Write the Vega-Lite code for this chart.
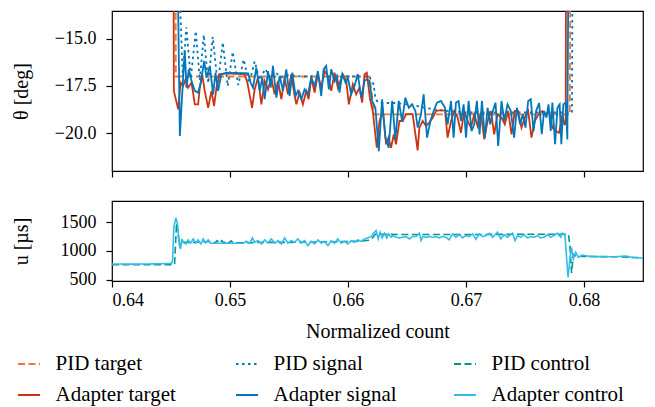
{
  "$schema": "https://vega.github.io/schema/vega-lite/v6.json",
  "padding": {"left": 10, "top": 10, "right": 10, "bottom": 5},
  "config": {
    "font": "Liberation Serif",
    "view": {"stroke": "black", "strokeWidth": 1.2},
    "axis": {
      "grid": false, "domain": false,
      "tickColor": "black", "tickWidth": 1.2, "tickSize": 6,
      "labelFont": "Liberation Serif", "labelFontSize": 18, "labelColor": "black", "labelPadding": 10,
      "titleFont": "Liberation Serif", "titleFontSize": 20, "titleFontWeight": "normal", "titleColor": "black"
    },
    "legend": {"labelFont": "Liberation Serif"},
    "concat": {"spacing": 21}
  },
  "datasets": {
    "theta": [
      {"series": "PID target", "count": 0.64, "value": -12},
      {"series": "PID target", "count": 0.64539, "value": -12},
      {"series": "PID target", "count": 0.64541, "value": -17.0},
      {"series": "PID target", "count": 0.66182, "value": -17.0},
      {"series": "PID target", "count": 0.66224, "value": -19.0},
      {"series": "PID target", "count": 0.6788, "value": -19.0},
      {"series": "PID target", "count": 0.67884, "value": -12},
      {"series": "PID target", "count": 0.685, "value": -12},

      {"series": "PID signal", "count": 0.64, "value": -12},
      {"series": "PID signal", "count": 0.6457, "value": -12},
      {"series": "PID signal", "count": 0.646, "value": -17.0},
      {"series": "PID signal", "count": 0.6463, "value": -14.4},
      {"series": "PID signal", "count": 0.64668, "value": -17.1},
      {"series": "PID signal", "count": 0.6471, "value": -14.6},
      {"series": "PID signal", "count": 0.64744, "value": -17.2},
      {"series": "PID signal", "count": 0.64778, "value": -14.8},
      {"series": "PID signal", "count": 0.64816, "value": -17.35},
      {"series": "PID signal", "count": 0.64854, "value": -14.9},
      {"series": "PID signal", "count": 0.64896, "value": -17.45},
      {"series": "PID signal", "count": 0.64939, "value": -15.2},
      {"series": "PID signal", "count": 0.64981, "value": -17.5},
      {"series": "PID signal", "count": 0.65023, "value": -15.7},
      {"series": "PID signal", "count": 0.6507, "value": -17.45},
      {"series": "PID signal", "count": 0.65116, "value": -16.1},
      {"series": "PID signal", "count": 0.65163, "value": -17.35},
      {"series": "PID signal", "count": 0.65209, "value": -16.2},
      {"series": "PID signal", "count": 0.65252, "value": -17.2},
      {"series": "PID signal", "count": 0.65298, "value": -16.6},
      {"series": "PID signal", "count": 0.65345, "value": -17.1},
      {"series": "PID signal", "count": 0.65387, "value": -16.8},
      {"series": "PID signal", "count": 0.65438, "value": -17.05},
      {"series": "PID signal", "count": 0.655, "value": -16.9},
      {"series": "PID signal", "count": 0.656, "value": -17.0},
      {"series": "PID signal", "count": 0.6618, "value": -17.0},
      {"series": "PID signal", "count": 0.66215, "value": -17.4},
      {"series": "PID signal", "count": 0.66235, "value": -18.2},
      {"series": "PID signal", "count": 0.6626, "value": -18.4},
      {"series": "PID signal", "count": 0.664, "value": -18.4},
      {"series": "PID signal", "count": 0.6655, "value": -18.5},
      {"series": "PID signal", "count": 0.6665, "value": -18.65},
      {"series": "PID signal", "count": 0.668, "value": -18.8},
      {"series": "PID signal", "count": 0.67, "value": -18.9},
      {"series": "PID signal", "count": 0.67898, "value": -18.9},
      {"series": "PID signal", "count": 0.67902, "value": -12},
      {"series": "PID signal", "count": 0.685, "value": -12},

      {"series": "Adapter target", "count": 0.64, "value": -12},
      {"series": "Adapter target", "count": 0.64522, "value": -12},
      {"series": "Adapter target", "count": 0.64524, "value": -17.76},
      {"series": "Adapter target", "count": 0.64561, "value": -18.73},
      {"series": "Adapter target", "count": 0.64581, "value": -17.32},
      {"series": "Adapter target", "count": 0.64603, "value": -17.5},
      {"series": "Adapter target", "count": 0.64623, "value": -17.15},
      {"series": "Adapter target", "count": 0.64645, "value": -17.59},
      {"series": "Adapter target", "count": 0.64674, "value": -17.32},
      {"series": "Adapter target", "count": 0.64702, "value": -18.47},
      {"series": "Adapter target", "count": 0.6473, "value": -18.47},
      {"series": "Adapter target", "count": 0.64744, "value": -17.59},
      {"series": "Adapter target", "count": 0.64764, "value": -16.88},
      {"series": "Adapter target", "count": 0.64786, "value": -17.76},
      {"series": "Adapter target", "count": 0.64815, "value": -18.65},
      {"series": "Adapter target", "count": 0.64843, "value": -17.76},
      {"series": "Adapter target", "count": 0.64865, "value": -18.56},
      {"series": "Adapter target", "count": 0.64885, "value": -17.59},
      {"series": "Adapter target", "count": 0.64913, "value": -16.88},
      {"series": "Adapter target", "count": 0.64942, "value": -16.85},
      {"series": "Adapter target", "count": 0.65012, "value": -16.85},
      {"series": "Adapter target", "count": 0.65125, "value": -16.88},
      {"series": "Adapter target", "count": 0.65147, "value": -17.32},
      {"series": "Adapter target", "count": 0.65187, "value": -18.65},
      {"series": "Adapter target", "count": 0.65209, "value": -17.68},
      {"series": "Adapter target", "count": 0.65237, "value": -17.06},
      {"series": "Adapter target", "count": 0.65266, "value": -18.47},
      {"series": "Adapter target", "count": 0.65294, "value": -17.24},
      {"series": "Adapter target", "count": 0.65322, "value": -17.68},
      {"series": "Adapter target", "count": 0.6535, "value": -17.06},
      {"series": "Adapter target", "count": 0.65378, "value": -17.94},
      {"series": "Adapter target", "count": 0.65407, "value": -17.24},
      {"series": "Adapter target", "count": 0.65435, "value": -18.2},
      {"series": "Adapter target", "count": 0.65463, "value": -17.06},
      {"series": "Adapter target", "count": 0.65491, "value": -17.94},
      {"series": "Adapter target", "count": 0.65519, "value": -16.88},
      {"series": "Adapter target", "count": 0.65548, "value": -18.03},
      {"series": "Adapter target", "count": 0.65562, "value": -18.47},
      {"series": "Adapter target", "count": 0.6559, "value": -17.85},
      {"series": "Adapter target", "count": 0.65618, "value": -18.47},
      {"series": "Adapter target", "count": 0.65646, "value": -17.76},
      {"series": "Adapter target", "count": 0.65666, "value": -18.2},
      {"series": "Adapter target", "count": 0.65689, "value": -17.06},
      {"series": "Adapter target", "count": 0.65717, "value": -17.85},
      {"series": "Adapter target", "count": 0.65745, "value": -16.88},
      {"series": "Adapter target", "count": 0.65773, "value": -17.59},
      {"series": "Adapter target", "count": 0.65801, "value": -16.71},
      {"series": "Adapter target", "count": 0.65829, "value": -16.97},
      {"series": "Adapter target", "count": 0.65858, "value": -17.76},
      {"series": "Adapter target", "count": 0.65886, "value": -16.8},
      {"series": "Adapter target", "count": 0.65914, "value": -17.59},
      {"series": "Adapter target", "count": 0.65956, "value": -16.88},
      {"series": "Adapter target", "count": 0.65985, "value": -17.24},
      {"series": "Adapter target", "count": 0.66007, "value": -18.47},
      {"series": "Adapter target", "count": 0.66041, "value": -17.41},
      {"series": "Adapter target", "count": 0.66069, "value": -17.94},
      {"series": "Adapter target", "count": 0.66097, "value": -17.59},
      {"series": "Adapter target", "count": 0.6612, "value": -18.38},
      {"series": "Adapter target", "count": 0.6614, "value": -16.88},
      {"series": "Adapter target", "count": 0.66159, "value": -16.8},
      {"series": "Adapter target", "count": 0.66187, "value": -18.2},
      {"series": "Adapter target", "count": 0.6621, "value": -18.82},
      {"series": "Adapter target", "count": 0.66244, "value": -20.76},
      {"series": "Adapter target", "count": 0.66267, "value": -19.35},
      {"series": "Adapter target", "count": 0.66295, "value": -18.82},
      {"series": "Adapter target", "count": 0.66323, "value": -20.58},
      {"series": "Adapter target", "count": 0.66343, "value": -20.23},
      {"series": "Adapter target", "count": 0.66365, "value": -20.76},
      {"series": "Adapter target", "count": 0.66388, "value": -20.06},
      {"series": "Adapter target", "count": 0.66407, "value": -20.58},
      {"series": "Adapter target", "count": 0.66436, "value": -19.35},
      {"series": "Adapter target", "count": 0.66464, "value": -19.35},
      {"series": "Adapter target", "count": 0.66492, "value": -18.99},
      {"series": "Adapter target", "count": 0.66548, "value": -18.99},
      {"series": "Adapter target", "count": 0.6659, "value": -20.9},
      {"series": "Adapter target", "count": 0.66605, "value": -19.7},
      {"series": "Adapter target", "count": 0.66633, "value": -19.35},
      {"series": "Adapter target", "count": 0.66661, "value": -19.61},
      {"series": "Adapter target", "count": 0.66689, "value": -19.44},
      {"series": "Adapter target", "count": 0.66718, "value": -19.17},
      {"series": "Adapter target", "count": 0.66746, "value": -18.82},
      {"series": "Adapter target", "count": 0.66774, "value": -18.79},
      {"series": "Adapter target", "count": 0.66822, "value": -18.79},
      {"series": "Adapter target", "count": 0.66844, "value": -20.23},
      {"series": "Adapter target", "count": 0.66873, "value": -19.35},
      {"series": "Adapter target", "count": 0.66901, "value": -18.82},
      {"series": "Adapter target", "count": 0.66929, "value": -19.17},
      {"series": "Adapter target", "count": 0.66957, "value": -19.97},
      {"series": "Adapter target", "count": 0.66985, "value": -18.82},
      {"series": "Adapter target", "count": 0.67014, "value": -19.35},
      {"series": "Adapter target", "count": 0.67042, "value": -19.7},
      {"series": "Adapter target", "count": 0.6707, "value": -18.99},
      {"series": "Adapter target", "count": 0.67098, "value": -19.61},
      {"series": "Adapter target", "count": 0.67126, "value": -18.91},
      {"series": "Adapter target", "count": 0.67155, "value": -20.32},
      {"series": "Adapter target", "count": 0.67183, "value": -19.35},
      {"series": "Adapter target", "count": 0.67211, "value": -18.82},
      {"series": "Adapter target", "count": 0.67239, "value": -20.06},
      {"series": "Adapter target", "count": 0.67267, "value": -18.99},
      {"series": "Adapter target", "count": 0.67301, "value": -19.17},
      {"series": "Adapter target", "count": 0.67329, "value": -19.53},
      {"series": "Adapter target", "count": 0.67357, "value": -18.82},
      {"series": "Adapter target", "count": 0.67386, "value": -20.06},
      {"series": "Adapter target", "count": 0.67414, "value": -18.82},
      {"series": "Adapter target", "count": 0.67442, "value": -18.82},
      {"series": "Adapter target", "count": 0.6747, "value": -19.7},
      {"series": "Adapter target", "count": 0.67498, "value": -19.17},
      {"series": "Adapter target", "count": 0.67527, "value": -18.82},
      {"series": "Adapter target", "count": 0.67555, "value": -20.23},
      {"series": "Adapter target", "count": 0.67583, "value": -19.35},
      {"series": "Adapter target", "count": 0.67619, "value": -18.95},
      {"series": "Adapter target", "count": 0.67648, "value": -18.82},
      {"series": "Adapter target", "count": 0.67676, "value": -19.0},
      {"series": "Adapter target", "count": 0.67704, "value": -18.82},
      {"series": "Adapter target", "count": 0.67732, "value": -19.7},
      {"series": "Adapter target", "count": 0.67761, "value": -19.88},
      {"series": "Adapter target", "count": 0.67789, "value": -19.97},
      {"series": "Adapter target", "count": 0.67817, "value": -19.0},
      {"series": "Adapter target", "count": 0.67834, "value": -19.53},
      {"series": "Adapter target", "count": 0.67845, "value": -19.5},
      {"series": "Adapter target", "count": 0.67847, "value": -12},
      {"series": "Adapter target", "count": 0.685, "value": -12},

      {"series": "Adapter signal", "count": 0.64, "value": -12},
      {"series": "Adapter signal", "count": 0.64558, "value": -12},
      {"series": "Adapter signal", "count": 0.64575, "value": -20.14},
      {"series": "Adapter signal", "count": 0.64603, "value": -17.06},
      {"series": "Adapter signal", "count": 0.64617, "value": -15.65},
      {"series": "Adapter signal", "count": 0.64631, "value": -17.59},
      {"series": "Adapter signal", "count": 0.64651, "value": -16.62},
      {"series": "Adapter signal", "count": 0.64674, "value": -17.24},
      {"series": "Adapter signal", "count": 0.64702, "value": -17.76},
      {"series": "Adapter signal", "count": 0.6473, "value": -17.85},
      {"series": "Adapter signal", "count": 0.64753, "value": -17.32},
      {"series": "Adapter signal", "count": 0.64781, "value": -16.18},
      {"series": "Adapter signal", "count": 0.64801, "value": -17.06},
      {"series": "Adapter signal", "count": 0.64829, "value": -16.44},
      {"series": "Adapter signal", "count": 0.64857, "value": -17.94},
      {"series": "Adapter signal", "count": 0.64877, "value": -16.8},
      {"series": "Adapter signal", "count": 0.64899, "value": -17.76},
      {"series": "Adapter signal", "count": 0.64927, "value": -16.88},
      {"series": "Adapter signal", "count": 0.6497, "value": -16.8},
      {"series": "Adapter signal", "count": 0.65153, "value": -16.83},
      {"series": "Adapter signal", "count": 0.65175, "value": -17.32},
      {"series": "Adapter signal", "count": 0.65195, "value": -17.59},
      {"series": "Adapter signal", "count": 0.65223, "value": -16.53},
      {"series": "Adapter signal", "count": 0.65252, "value": -17.76},
      {"series": "Adapter signal", "count": 0.65274, "value": -17.06},
      {"series": "Adapter signal", "count": 0.65294, "value": -18.2},
      {"series": "Adapter signal", "count": 0.65322, "value": -16.71},
      {"series": "Adapter signal", "count": 0.65345, "value": -17.59},
      {"series": "Adapter signal", "count": 0.65364, "value": -16.44},
      {"series": "Adapter signal", "count": 0.65393, "value": -18.12},
      {"series": "Adapter signal", "count": 0.65421, "value": -16.97},
      {"series": "Adapter signal", "count": 0.65449, "value": -17.76},
      {"series": "Adapter signal", "count": 0.65477, "value": -16.62},
      {"series": "Adapter signal", "count": 0.65505, "value": -18.03},
      {"series": "Adapter signal", "count": 0.65528, "value": -16.8},
      {"series": "Adapter signal", "count": 0.65556, "value": -18.03},
      {"series": "Adapter signal", "count": 0.65576, "value": -17.76},
      {"series": "Adapter signal", "count": 0.65604, "value": -18.2},
      {"series": "Adapter signal", "count": 0.65632, "value": -17.68},
      {"series": "Adapter signal", "count": 0.6566, "value": -17.94},
      {"series": "Adapter signal", "count": 0.65689, "value": -17.06},
      {"series": "Adapter signal", "count": 0.65717, "value": -17.5},
      {"series": "Adapter signal", "count": 0.65745, "value": -16.71},
      {"series": "Adapter signal", "count": 0.65773, "value": -18.03},
      {"series": "Adapter signal", "count": 0.65793, "value": -16.62},
      {"series": "Adapter signal", "count": 0.65815, "value": -16.44},
      {"series": "Adapter signal", "count": 0.65838, "value": -17.68},
      {"series": "Adapter signal", "count": 0.65858, "value": -16.62},
      {"series": "Adapter signal", "count": 0.65886, "value": -17.24},
      {"series": "Adapter signal", "count": 0.65906, "value": -16.97},
      {"series": "Adapter signal", "count": 0.65928, "value": -17.85},
      {"series": "Adapter signal", "count": 0.65951, "value": -16.88},
      {"series": "Adapter signal", "count": 0.65979, "value": -17.32},
      {"series": "Adapter signal", "count": 0.65999, "value": -17.06},
      {"series": "Adapter signal", "count": 0.66027, "value": -17.94},
      {"series": "Adapter signal", "count": 0.66055, "value": -17.5},
      {"series": "Adapter signal", "count": 0.66083, "value": -16.88},
      {"series": "Adapter signal", "count": 0.66112, "value": -18.12},
      {"series": "Adapter signal", "count": 0.6614, "value": -17.24},
      {"series": "Adapter signal", "count": 0.66159, "value": -17.15},
      {"series": "Adapter signal", "count": 0.66182, "value": -17.24},
      {"series": "Adapter signal", "count": 0.66204, "value": -18.29},
      {"series": "Adapter signal", "count": 0.66232, "value": -18.65},
      {"series": "Adapter signal", "count": 0.66261, "value": -20.94},
      {"series": "Adapter signal", "count": 0.66289, "value": -18.2},
      {"series": "Adapter signal", "count": 0.66317, "value": -20.23},
      {"series": "Adapter signal", "count": 0.66345, "value": -20.76},
      {"series": "Adapter signal", "count": 0.66374, "value": -18.29},
      {"series": "Adapter signal", "count": 0.66402, "value": -20.32},
      {"series": "Adapter signal", "count": 0.6643, "value": -18.29},
      {"series": "Adapter signal", "count": 0.66458, "value": -19.35},
      {"series": "Adapter signal", "count": 0.66486, "value": -18.12},
      {"series": "Adapter signal", "count": 0.66515, "value": -18.65},
      {"series": "Adapter signal", "count": 0.66543, "value": -18.47},
      {"series": "Adapter signal", "count": 0.66571, "value": -18.82},
      {"series": "Adapter signal", "count": 0.66591, "value": -19.7},
      {"series": "Adapter signal", "count": 0.66619, "value": -18.99},
      {"series": "Adapter signal", "count": 0.66641, "value": -17.94},
      {"series": "Adapter signal", "count": 0.6667, "value": -20.23},
      {"series": "Adapter signal", "count": 0.66698, "value": -19.35},
      {"series": "Adapter signal", "count": 0.66726, "value": -18.82},
      {"series": "Adapter signal", "count": 0.66754, "value": -18.38},
      {"series": "Adapter signal", "count": 0.66788, "value": -18.29},
      {"series": "Adapter signal", "count": 0.66822, "value": -18.65},
      {"series": "Adapter signal", "count": 0.66844, "value": -19.53},
      {"series": "Adapter signal", "count": 0.66873, "value": -18.29},
      {"series": "Adapter signal", "count": 0.66895, "value": -20.23},
      {"series": "Adapter signal", "count": 0.66915, "value": -18.38},
      {"series": "Adapter signal", "count": 0.66937, "value": -18.29},
      {"series": "Adapter signal", "count": 0.66957, "value": -19.35},
      {"series": "Adapter signal", "count": 0.6698, "value": -18.47},
      {"series": "Adapter signal", "count": 0.67, "value": -20.23},
      {"series": "Adapter signal", "count": 0.67022, "value": -18.29},
      {"series": "Adapter signal", "count": 0.67047, "value": -19.88},
      {"series": "Adapter signal", "count": 0.6707, "value": -19.53},
      {"series": "Adapter signal", "count": 0.67092, "value": -18.29},
      {"series": "Adapter signal", "count": 0.67115, "value": -20.06},
      {"series": "Adapter signal", "count": 0.67135, "value": -18.29},
      {"series": "Adapter signal", "count": 0.6716, "value": -20.23},
      {"series": "Adapter signal", "count": 0.67183, "value": -18.65},
      {"series": "Adapter signal", "count": 0.67205, "value": -19.53},
      {"series": "Adapter signal", "count": 0.67228, "value": -18.82},
      {"series": "Adapter signal", "count": 0.6725, "value": -18.38},
      {"series": "Adapter signal", "count": 0.67273, "value": -20.67},
      {"series": "Adapter signal", "count": 0.67301, "value": -18.29},
      {"series": "Adapter signal", "count": 0.67324, "value": -19.35},
      {"series": "Adapter signal", "count": 0.67352, "value": -18.47},
      {"series": "Adapter signal", "count": 0.6738, "value": -18.82},
      {"series": "Adapter signal", "count": 0.67408, "value": -20.23},
      {"series": "Adapter signal", "count": 0.67431, "value": -18.65},
      {"series": "Adapter signal", "count": 0.67459, "value": -19.53},
      {"series": "Adapter signal", "count": 0.67481, "value": -18.99},
      {"series": "Adapter signal", "count": 0.67504, "value": -19.7},
      {"series": "Adapter signal", "count": 0.67527, "value": -18.29},
      {"series": "Adapter signal", "count": 0.67549, "value": -18.2},
      {"series": "Adapter signal", "count": 0.67572, "value": -19.88},
      {"series": "Adapter signal", "count": 0.67594, "value": -18.82},
      {"series": "Adapter signal", "count": 0.6762, "value": -18.4},
      {"series": "Adapter signal", "count": 0.67642, "value": -20.05},
      {"series": "Adapter signal", "count": 0.67662, "value": -18.82},
      {"series": "Adapter signal", "count": 0.67682, "value": -19.17},
      {"series": "Adapter signal", "count": 0.67699, "value": -18.47},
      {"series": "Adapter signal", "count": 0.67718, "value": -19.88},
      {"series": "Adapter signal", "count": 0.67732, "value": -18.38},
      {"series": "Adapter signal", "count": 0.67755, "value": -20.58},
      {"series": "Adapter signal", "count": 0.67775, "value": -18.65},
      {"series": "Adapter signal", "count": 0.67794, "value": -18.47},
      {"series": "Adapter signal", "count": 0.67808, "value": -20.58},
      {"series": "Adapter signal", "count": 0.67825, "value": -18.47},
      {"series": "Adapter signal", "count": 0.67845, "value": -18.38},
      {"series": "Adapter signal", "count": 0.67859, "value": -20.32},
      {"series": "Adapter signal", "count": 0.67867, "value": -12},
      {"series": "Adapter signal", "count": 0.685, "value": -12}
    ],
    "control": [
      {"series": "PID control", "count": 0.64, "value": 762},
      {"series": "PID control", "count": 0.645, "value": 762},
      {"series": "PID control", "count": 0.6453, "value": 765},
      {"series": "PID control", "count": 0.64547, "value": 1482},
      {"series": "PID control", "count": 0.64561, "value": 1296},
      {"series": "PID control", "count": 0.64575, "value": 1064},
      {"series": "PID control", "count": 0.6459, "value": 1180},
      {"series": "PID control", "count": 0.6461, "value": 1150},
      {"series": "PID control", "count": 0.647, "value": 1150},
      {"series": "PID control", "count": 0.6485, "value": 1165},
      {"series": "PID control", "count": 0.6487, "value": 1135},
      {"series": "PID control", "count": 0.6489, "value": 1180},
      {"series": "PID control", "count": 0.6491, "value": 1135},
      {"series": "PID control", "count": 0.6493, "value": 1180},
      {"series": "PID control", "count": 0.6495, "value": 1135},
      {"series": "PID control", "count": 0.6497, "value": 1180},
      {"series": "PID control", "count": 0.6499, "value": 1135},
      {"series": "PID control", "count": 0.6501, "value": 1175},
      {"series": "PID control", "count": 0.6503, "value": 1140},
      {"series": "PID control", "count": 0.651, "value": 1140},
      {"series": "PID control", "count": 0.653, "value": 1150},
      {"series": "PID control", "count": 0.655, "value": 1150},
      {"series": "PID control", "count": 0.657, "value": 1155},
      {"series": "PID control", "count": 0.659, "value": 1160},
      {"series": "PID control", "count": 0.661, "value": 1170},
      {"series": "PID control", "count": 0.6618, "value": 1185},
      {"series": "PID control", "count": 0.6621, "value": 1230},
      {"series": "PID control", "count": 0.6623, "value": 1290},
      {"series": "PID control", "count": 0.665, "value": 1285},
      {"series": "PID control", "count": 0.67, "value": 1285},
      {"series": "PID control", "count": 0.675, "value": 1290},
      {"series": "PID control", "count": 0.67868, "value": 1290},
      {"series": "PID control", "count": 0.6788, "value": 1100},
      {"series": "PID control", "count": 0.67895, "value": 620},
      {"series": "PID control", "count": 0.6791, "value": 940},
      {"series": "PID control", "count": 0.67935, "value": 910},
      {"series": "PID control", "count": 0.68, "value": 905},
      {"series": "PID control", "count": 0.683, "value": 900},
      {"series": "PID control", "count": 0.685, "value": 878},

      {"series": "Adapter control", "count": 0.64, "value": 775},
      {"series": "Adapter control", "count": 0.642, "value": 772},
      {"series": "Adapter control", "count": 0.644, "value": 778},
      {"series": "Adapter control", "count": 0.64505, "value": 785},
      {"series": "Adapter control", "count": 0.64513, "value": 832},
      {"series": "Adapter control", "count": 0.64524, "value": 1412},
      {"series": "Adapter control", "count": 0.64541, "value": 1575},
      {"series": "Adapter control", "count": 0.64555, "value": 1470},
      {"series": "Adapter control", "count": 0.64569, "value": 1122},
      {"series": "Adapter control", "count": 0.64581, "value": 1035},
      {"series": "Adapter control", "count": 0.64592, "value": 1209},
      {"series": "Adapter control", "count": 0.64603, "value": 1151},
      {"series": "Adapter control", "count": 0.64626, "value": 1122},
      {"series": "Adapter control", "count": 0.64646, "value": 1192},
      {"series": "Adapter control", "count": 0.64665, "value": 1134},
      {"series": "Adapter control", "count": 0.64688, "value": 1209},
      {"series": "Adapter control", "count": 0.6471, "value": 1139},
      {"series": "Adapter control", "count": 0.6473, "value": 1192},
      {"series": "Adapter control", "count": 0.64753, "value": 1122},
      {"series": "Adapter control", "count": 0.64772, "value": 1209},
      {"series": "Adapter control", "count": 0.64795, "value": 1139},
      {"series": "Adapter control", "count": 0.64815, "value": 1192},
      {"series": "Adapter control", "count": 0.64834, "value": 1134},
      {"series": "Adapter control", "count": 0.64857, "value": 1134},
      {"series": "Adapter control", "count": 0.65111, "value": 1134},
      {"series": "Adapter control", "count": 0.65139, "value": 1168},
      {"series": "Adapter control", "count": 0.65167, "value": 1134},
      {"series": "Adapter control", "count": 0.6519, "value": 1227},
      {"series": "Adapter control", "count": 0.65209, "value": 1151},
      {"series": "Adapter control", "count": 0.65238, "value": 1180},
      {"series": "Adapter control", "count": 0.65266, "value": 1122},
      {"series": "Adapter control", "count": 0.65294, "value": 1192},
      {"series": "Adapter control", "count": 0.65322, "value": 1139},
      {"series": "Adapter control", "count": 0.6535, "value": 1209},
      {"series": "Adapter control", "count": 0.65379, "value": 1134},
      {"series": "Adapter control", "count": 0.65407, "value": 1180},
      {"series": "Adapter control", "count": 0.65435, "value": 1122},
      {"series": "Adapter control", "count": 0.65463, "value": 1227},
      {"series": "Adapter control", "count": 0.65491, "value": 1134},
      {"series": "Adapter control", "count": 0.65519, "value": 1180},
      {"series": "Adapter control", "count": 0.65548, "value": 1151},
      {"series": "Adapter control", "count": 0.65576, "value": 1209},
      {"series": "Adapter control", "count": 0.65604, "value": 1134},
      {"series": "Adapter control", "count": 0.65632, "value": 1180},
      {"series": "Adapter control", "count": 0.6566, "value": 1093},
      {"series": "Adapter control", "count": 0.65689, "value": 1168},
      {"series": "Adapter control", "count": 0.65717, "value": 1122},
      {"series": "Adapter control", "count": 0.65745, "value": 1192},
      {"series": "Adapter control", "count": 0.65773, "value": 1134},
      {"series": "Adapter control", "count": 0.65801, "value": 1168},
      {"series": "Adapter control", "count": 0.6583, "value": 1093},
      {"series": "Adapter control", "count": 0.65858, "value": 1180},
      {"series": "Adapter control", "count": 0.65886, "value": 1134},
      {"series": "Adapter control", "count": 0.65914, "value": 1209},
      {"series": "Adapter control", "count": 0.65942, "value": 1134},
      {"series": "Adapter control", "count": 0.65971, "value": 1168},
      {"series": "Adapter control", "count": 0.65999, "value": 1122},
      {"series": "Adapter control", "count": 0.66027, "value": 1180},
      {"series": "Adapter control", "count": 0.66055, "value": 1151},
      {"series": "Adapter control", "count": 0.66083, "value": 1192},
      {"series": "Adapter control", "count": 0.66111, "value": 1168},
      {"series": "Adapter control", "count": 0.6614, "value": 1209},
      {"series": "Adapter control", "count": 0.66168, "value": 1227},
      {"series": "Adapter control", "count": 0.66196, "value": 1250},
      {"series": "Adapter control", "count": 0.66216, "value": 1308},
      {"series": "Adapter control", "count": 0.66238, "value": 1354},
      {"series": "Adapter control", "count": 0.66256, "value": 1209},
      {"series": "Adapter control", "count": 0.66272, "value": 1325},
      {"series": "Adapter control", "count": 0.66289, "value": 1227},
      {"series": "Adapter control", "count": 0.66309, "value": 1308},
      {"series": "Adapter control", "count": 0.66328, "value": 1227},
      {"series": "Adapter control", "count": 0.66345, "value": 1296},
      {"series": "Adapter control", "count": 0.66365, "value": 1238},
      {"series": "Adapter control", "count": 0.66385, "value": 1267},
      {"series": "Adapter control", "count": 0.66407, "value": 1238},
      {"series": "Adapter control", "count": 0.66436, "value": 1227},
      {"series": "Adapter control", "count": 0.66464, "value": 1238},
      {"series": "Adapter control", "count": 0.66492, "value": 1250},
      {"series": "Adapter control", "count": 0.6652, "value": 1209},
      {"series": "Adapter control", "count": 0.66548, "value": 1250},
      {"series": "Adapter control", "count": 0.66576, "value": 1250},
      {"series": "Adapter control", "count": 0.66605, "value": 1308},
      {"series": "Adapter control", "count": 0.66619, "value": 1180},
      {"series": "Adapter control", "count": 0.66633, "value": 1250},
      {"series": "Adapter control", "count": 0.66661, "value": 1238},
      {"series": "Adapter control", "count": 0.66689, "value": 1250},
      {"series": "Adapter control", "count": 0.66717, "value": 1238},
      {"series": "Adapter control", "count": 0.66746, "value": 1250},
      {"series": "Adapter control", "count": 0.66774, "value": 1227},
      {"series": "Adapter control", "count": 0.66802, "value": 1250},
      {"series": "Adapter control", "count": 0.6683, "value": 1238},
      {"series": "Adapter control", "count": 0.66858, "value": 1192},
      {"series": "Adapter control", "count": 0.66887, "value": 1296},
      {"series": "Adapter control", "count": 0.66915, "value": 1238},
      {"series": "Adapter control", "count": 0.66943, "value": 1285},
      {"series": "Adapter control", "count": 0.66971, "value": 1227},
      {"series": "Adapter control", "count": 0.66999, "value": 1267},
      {"series": "Adapter control", "count": 0.67027, "value": 1250},
      {"series": "Adapter control", "count": 0.67056, "value": 1296},
      {"series": "Adapter control", "count": 0.67084, "value": 1203},
      {"series": "Adapter control", "count": 0.67112, "value": 1296},
      {"series": "Adapter control", "count": 0.6714, "value": 1250},
      {"series": "Adapter control", "count": 0.67168, "value": 1267},
      {"series": "Adapter control", "count": 0.67197, "value": 1308},
      {"series": "Adapter control", "count": 0.67225, "value": 1238},
      {"series": "Adapter control", "count": 0.67253, "value": 1296},
      {"series": "Adapter control", "count": 0.67267, "value": 1325},
      {"series": "Adapter control", "count": 0.67295, "value": 1209},
      {"series": "Adapter control", "count": 0.67323, "value": 1285},
      {"series": "Adapter control", "count": 0.67352, "value": 1238},
      {"series": "Adapter control", "count": 0.67394, "value": 1308},
      {"series": "Adapter control", "count": 0.67416, "value": 1180},
      {"series": "Adapter control", "count": 0.67436, "value": 1267},
      {"series": "Adapter control", "count": 0.67464, "value": 1238},
      {"series": "Adapter control", "count": 0.67493, "value": 1285},
      {"series": "Adapter control", "count": 0.67521, "value": 1227},
      {"series": "Adapter control", "count": 0.67549, "value": 1250},
      {"series": "Adapter control", "count": 0.67577, "value": 1238},
      {"series": "Adapter control", "count": 0.67605, "value": 1267},
      {"series": "Adapter control", "count": 0.67634, "value": 1227},
      {"series": "Adapter control", "count": 0.67662, "value": 1238},
      {"series": "Adapter control", "count": 0.6769, "value": 1285},
      {"series": "Adapter control", "count": 0.67718, "value": 1238},
      {"series": "Adapter control", "count": 0.67746, "value": 1267},
      {"series": "Adapter control", "count": 0.67774, "value": 1308},
      {"series": "Adapter control", "count": 0.67803, "value": 1238},
      {"series": "Adapter control", "count": 0.67817, "value": 1308},
      {"series": "Adapter control", "count": 0.67839, "value": 1267},
      {"series": "Adapter control", "count": 0.6785, "value": 948},
      {"series": "Adapter control", "count": 0.67865, "value": 541},
      {"series": "Adapter control", "count": 0.67882, "value": 890},
      {"series": "Adapter control", "count": 0.67893, "value": 1064},
      {"series": "Adapter control", "count": 0.6791, "value": 861},
      {"series": "Adapter control", "count": 0.6793, "value": 977},
      {"series": "Adapter control", "count": 0.67952, "value": 890},
      {"series": "Adapter control", "count": 0.67986, "value": 930},
      {"series": "Adapter control", "count": 0.68042, "value": 907},
      {"series": "Adapter control", "count": 0.68155, "value": 901},
      {"series": "Adapter control", "count": 0.68268, "value": 901},
      {"series": "Adapter control", "count": 0.68352, "value": 913},
      {"series": "Adapter control", "count": 0.68409, "value": 890},
      {"series": "Adapter control", "count": 0.685, "value": 878}
    ]
  },
  "vconcat": [
    {
      "width": 531,
      "height": 160,
      "data": {"name": "theta"},
      "mark": {"type": "line", "clip": true, "strokeWidth": 1.8},
      "encoding": {
        "x": {
          "field": "count", "type": "quantitative",
          "scale": {"domain": [0.64, 0.685], "nice": false, "zero": false},
          "axis": {"values": [0.64, 0.65, 0.66, 0.67, 0.68], "labels": false, "title": null}
        },
        "y": {
          "field": "value", "type": "quantitative",
          "scale": {"domain": [-21.99, -13.54], "nice": false, "zero": false},
          "axis": {"values": [-20, -17.5, -15], "format": ".1f", "title": "θ [deg]", "titlePadding": 23}
        },
        "color": {
          "field": "series", "type": "nominal",
          "scale": {
            "domain": ["PID target", "PID signal", "PID control", "Adapter target", "Adapter signal", "Adapter control"],
            "range": ["#EE7733", "#0077BB", "#009988", "#CC3311", "#0077BB", "#33BBEE"]
          },
          "legend": {
            "title": null, "orient": "none", "legendX": -95, "legendY": 341,
            "direction": "horizontal", "columns": 3, "gridAlign": "all",
            "columnPadding": 44, "rowPadding": 9,
            "symbolType": "stroke", "symbolSize": 484, "symbolStrokeWidth": 2,
            "labelFontSize": 21, "labelOffset": 14.5, "labelLimit": 300, "labelColor": "black"
          }
        },
        "strokeDash": {
          "field": "series", "type": "nominal",
          "scale": {
            "domain": ["PID target", "PID signal", "PID control", "Adapter target", "Adapter signal", "Adapter control"],
            "range": [[7, 3.5], [2.5, 3.5], [7, 3.5], [1, 0], [1, 0], [1, 0]]
          },
          "legend": {
            "title": null, "orient": "none", "legendX": -95, "legendY": 341,
            "direction": "horizontal", "columns": 3, "gridAlign": "all",
            "columnPadding": 44, "rowPadding": 9,
            "symbolType": "stroke", "symbolSize": 484, "symbolStrokeWidth": 2,
            "labelFontSize": 21, "labelOffset": 14.5, "labelLimit": 300, "labelColor": "black"
          }
        }
      }
    },
    {
      "width": 531,
      "height": 80,
      "data": {"name": "control"},
      "mark": {"type": "line", "clip": true, "strokeWidth": 1.6},
      "encoding": {
        "x": {
          "field": "count", "type": "quantitative",
          "scale": {"domain": [0.64, 0.685], "nice": false, "zero": false},
          "axis": {"values": [0.64, 0.65, 0.66, 0.67, 0.68], "format": ".2f", "labelPadding": 4, "title": "Normalized count", "titlePadding": 12}
        },
        "y": {
          "field": "value", "type": "quantitative",
          "scale": {"domain": [480, 1866], "nice": false, "zero": false},
          "axis": {"values": [500, 1000, 1500], "format": "d", "title": "u [µs]", "titlePadding": 29}
        },
        "color": {
          "field": "series", "type": "nominal",
          "scale": {
            "domain": ["PID target", "PID signal", "PID control", "Adapter target", "Adapter signal", "Adapter control"],
            "range": ["#EE7733", "#0077BB", "#009988", "#CC3311", "#0077BB", "#33BBEE"]
          }
        },
        "strokeDash": {
          "field": "series", "type": "nominal",
          "scale": {
            "domain": ["PID target", "PID signal", "PID control", "Adapter target", "Adapter signal", "Adapter control"],
            "range": [[7, 3.5], [2.5, 3.5], [7, 3.5], [1, 0], [1, 0], [1, 0]]
          }
        }
      }
    }
  ]
}
